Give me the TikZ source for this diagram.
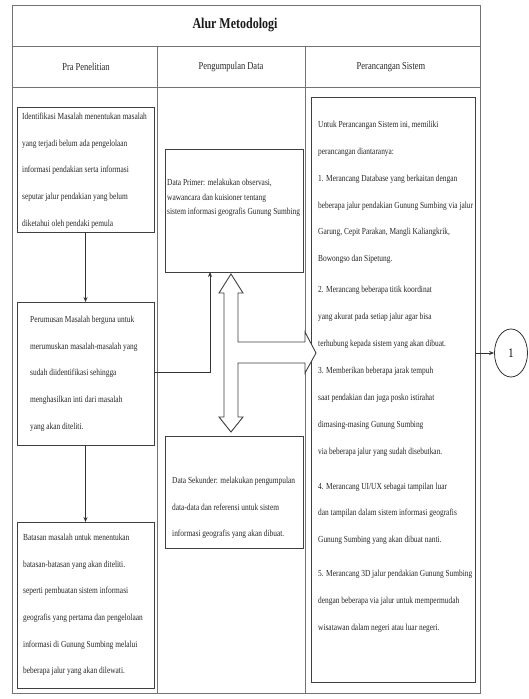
\documentclass[tikz,border=0pt]{standalone}
\usepackage{fontspec}
\setmainfont{Liberation Serif}[FakeStretch=0.8]
\usetikzlibrary{arrows.meta,shapes.geometric}
\begin{document}
\begin{tikzpicture}[x=1pt,y=-1pt,
  frame/.style={draw=black!55, line width=0.8pt},
  box/.style={draw=black!75, line width=0.9pt, inner sep=0pt, outer sep=0pt, anchor=north west},
  body/.style={inner sep=0pt, anchor=north west, align=left, text=black!85, font=\fontsize{9.25}{26.6}\selectfont},
  head/.style={text=black!85, font=\fontsize{10.6}{12}\selectfont},
  conn/.style={draw=black!80, line width=0.8pt, -{Stealth[length=5pt,width=4pt]}}
]
\useasboundingbox (0,0) rectangle (529,699);
\fill[white] (0,0) rectangle (529,699);
% table frame
\draw[frame] (12,5) rectangle (480,693);
\draw[frame] (12,46) -- (480,46);
\draw[frame] (12,87) -- (480,87);
\draw[frame] (157,46) -- (157,693);
\draw[frame] (305,46) -- (305,693);
\node[font=\fontsize{15}{17}\selectfont\bfseries, text=black!90] (title) at (235,25) {Alur Metodologi};
\node[head] (h1) at (86,67) {Pra Penelitian};
\node[head] (h2) at (231,67) {Pengumpulan Data};
\node[head] (h3) at (391,67) {Perancangan Sistem};
% boxes
\node[box, minimum width=137, minimum height=125] (b1) at (17,107) {};
\node[box, minimum width=137, minimum height=143] (b2) at (17,302) {};
\node[box, minimum width=137, minimum height=166] (b3) at (17,522) {};
\node[box, minimum width=138, minimum height=123] (dp) at (165,149) {};
\node[box, minimum width=138, minimum height=112] (ds) at (165,436) {};
\node[box, minimum width=164, minimum height=585] (rb) at (311,97) {};
% texts
\node[body] (t1) at (22,113) {Identifikasi Masalah menentukan masalah\\yang terjadi belum ada pengelolaan\\informasi pendakian serta informasi\\seputar jalur pendakian yang belum\\diketahui oleh pendaki pemula};
\node[body] (t2) at (30,316) {Perumusan Masalah berguna untuk\\merumuskan masalah-masalah yang\\sudah diidentifikasi sehingga\\menghasilkan inti dari masalah\\yang akan diteliti.};
\node[body] (t3) at (23,534) {Batasan masalah untuk menentukan\\batasan-batasan yang akan diteliti.\\seperti pembuatan sistem informasi\\geografis yang pertama dan pengelolaan\\informasi di Gunung Sumbing melalui\\beberapa jalur yang akan dilewati.};
\node[body, font=\fontsize{9.25}{14.6}\selectfont] (t4) at (167,179) {Data Primer: melakukan observasi,\\wawancara dan kuisioner tentang\\sistem informasi geografis Gunung Sumbing};
\node[body] (t5) at (172,477) {Data Sekunder: melakukan pengumpulan\\data-data dan referensi untuk sistem\\informasi geografis yang akan dibuat.};
\node[body, font=\fontsize{9.25}{26.8}\selectfont] (t6) at (318,121) {Untuk Perancangan Sistem ini, memiliki\\perancangan diantaranya:\\1. Merancang Database yang berkaitan dengan\\beberapa jalur pendakian Gunung Sumbing via jalur\\Garung, Cepit Parakan, Mangli Kaliangkrik,\\Bowongso dan Sipetung.\\[4pt]2. Merancang beberapa titik koordinat\\yang akurat pada setiap jalur agar bisa\\terhubung kepada sistem yang akan dibuat.\\[1pt]3. Memberikan beberapa jarak tempuh\\saat pendakian dan juga posko istirahat\\dimasing-masing Gunung Sumbing\\via beberapa jalur yang sudah disebutkan.\\[8pt]4. Merancang UI/UX sebagai tampilan luar\\dan tampilan dalam sistem informasi geografis\\Gunung Sumbing yang akan dibuat nanti.\\[7pt]5. Merancang 3D jalur pendakian Gunung Sumbing\\dengan beberapa via jalur untuk mempermudah\\wisatawan dalam negeri atau luar negeri.};
% block arrow
\draw[draw=black!75, line width=0.9pt, fill=white] (231,274) -- (243,293) -- (238,293) -- (238,342) -- (305,342) -- (305,332) -- (316,353) -- (305,373) -- (305,363) -- (238,363) -- (238,417) -- (243,417) -- (231,432) -- (219,417) -- (224,417) -- (224,293) -- (219,293) -- cycle;
% connectors
\draw[conn] (b1.south) -- (b2.north);
\draw[conn] (b2.south) -- (b3.north);
\coordinate (k) at (210,372);
\draw[conn] (b2.east |- k) -- (k) -- (k |- dp.south);
\node[draw=black!80, line width=0.8pt, ellipse, minimum width=33, minimum height=48, inner sep=0pt, font=\fontsize{13}{15}\selectfont] (c1) at (511,353) {1};
\draw[conn] (rb.east |- c1) -- (c1.west);
\end{tikzpicture}
\end{document}
